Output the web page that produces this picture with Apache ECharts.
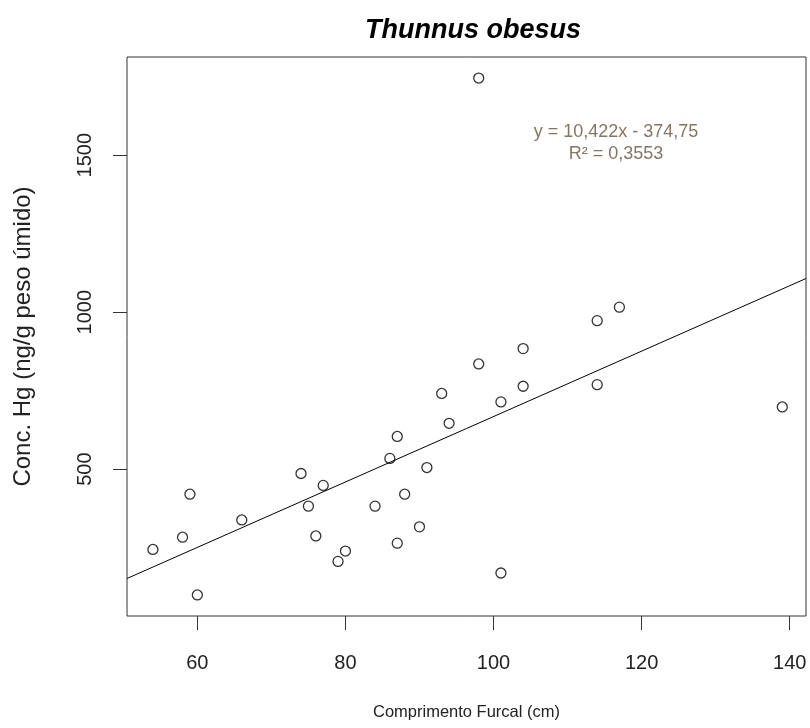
<!DOCTYPE html>
<html>
<head>
<meta charset="utf-8">
<title>Thunnus obesus</title>
<script src="https://cdn.jsdelivr.net/npm/echarts@6/dist/echarts.min.js"></script>
<style>
  html, body { margin: 0; padding: 0; background: #fff; }
  #chart { width: 810px; height: 728px; }
</style>
</head>
<body>
<div id="chart"></div>
<script>
// Fork length (cm) and mercury concentration (ng/g wet weight) per fish
const comprimento = [54, 58, 59, 60, 66, 74, 77, 75, 76, 79, 80, 84, 86, 87, 87,
                     88, 90, 91, 93, 94, 98, 98, 101, 101, 104, 104, 114, 114, 117, 139];
const concHg = [244, 283, 420, 99, 338, 486, 448, 382, 287, 206, 239, 382, 534, 604, 264,
                420, 316, 505, 741, 646, 1746, 835, 714, 169, 884, 764, 973, 769, 1016, 698];

// Linear fit reported on the chart
const slope = 10.422;
const intercept = -374.75;
const r2 = 0.3553;

// Axis tick labels
const xTicks = [60, 80, 100, 120, 140];
const yTicks = [500, 1000, 1500];

// Axis limits (data range padded 4% on each side)
const xMin = 50.5, xMax = 142.2;
const yMin = 32, yMax = 1813;

const fmt = (v, d) => v.toFixed(d).replace('.', ',');
const eqText = 'y = ' + fmt(slope, 3) + 'x - ' + fmt(Math.abs(intercept), 2);
const r2Text = 'R\u00b2 = ' + fmt(r2, 4);

const font = '"Liberation Sans", Arial, sans-serif';
const ink = '#222';

const chart = echarts.init(document.getElementById('chart'), null, { renderer: 'canvas' });

const fitLine = [xMin, xMax].map(x => [x, slope * x + intercept]);

chart.setOption({
  animation: false,
  backgroundColor: '#fff',
  title: {
    text: 'Thunnus obesus',
    left: 468,
    top: 12,
    textAlign: 'center',
    textStyle: { fontFamily: font, fontSize: 27, fontWeight: 'bold', fontStyle: 'italic', color: '#000' }
  },
  grid: {
    left: 127, top: 57, width: 679, height: 559,
    show: true, borderColor: '#333', borderWidth: 1, backgroundColor: 'transparent'
  },
  xAxis: {
    type: 'value', min: xMin, max: xMax,
    name: 'Comprimento Furcal (cm)', nameLocation: 'middle', nameGap: 88,
    nameTextStyle: { fontFamily: font, fontSize: 16.5, color: ink },
    axisLine: { show: false },
    splitLine: { show: false },
    axisTick: { show: true, length: 14, customValues: xTicks, lineStyle: { color: '#333', width: 1 } },
    axisLabel: { customValues: xTicks, margin: 37, fontFamily: font, fontSize: 20, color: ink }
  },
  yAxis: {
    type: 'value', min: yMin, max: yMax,
    name: 'Conc. Hg (ng/g peso \u00famido)', nameLocation: 'middle', nameGap: 92,
    nameTextStyle: { fontFamily: font, fontSize: 24, color: ink },
    axisLine: { show: false },
    splitLine: { show: false },
    axisTick: { show: true, length: 14, customValues: yTicks, lineStyle: { color: '#333', width: 1 } },
    axisLabel: {
      customValues: yTicks, rotate: 90, margin: 32, fontFamily: font, fontSize: 20, color: ink,
      formatter: v => String(v)
    }
  },
  graphic: [
    {
      type: 'text', x: 616, y: 123,
      style: { text: eqText, fontFamily: font, fontSize: 18, fill: '#857565', align: 'center' }
    },
    {
      type: 'text', x: 616, y: 145,
      style: { text: r2Text, fontFamily: font, fontSize: 18, fill: '#857565', align: 'center' }
    }
  ],
  series: [
    {
      type: 'line',
      data: fitLine,
      symbol: 'none',
      lineStyle: { color: '#000', width: 1 },
      z: 2
    },
    {
      type: 'scatter',
      data: comprimento.map((x, i) => [x, concHg[i]]),
      symbol: 'circle',
      symbolSize: 10,
      itemStyle: { color: 'rgba(255,255,255,0)', borderColor: '#000', borderWidth: 1.3 },
      z: 3
    }
  ]
});
</script>
</body>
</html>
